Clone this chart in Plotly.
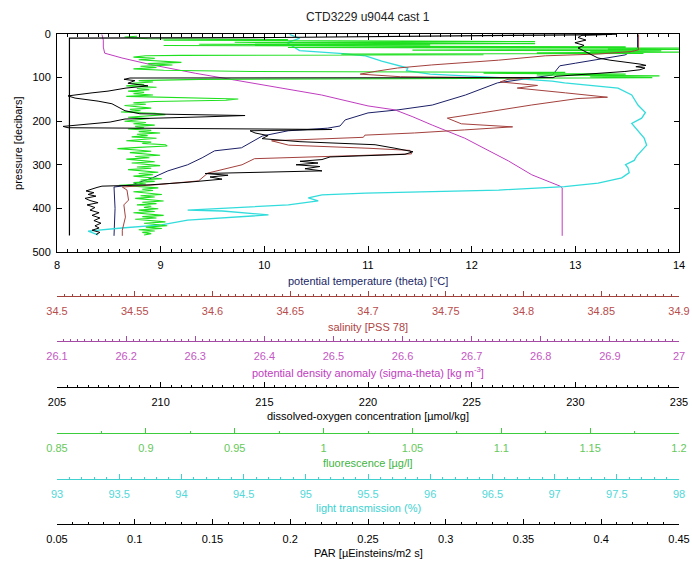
import plotly.graph_objects as go

# ---------------- CTD profiles (pressure in decibars) ----------------
temp_p = [2, 32, 48, 55, 60, 67, 73, 94, 101, 112,
          140, 163, 174, 181, 197, 211, 216, 222, 234, 243,
          261, 268, 284, 300, 314, 330, 346, 351, 400, 463]
temp_v = [13.60, 13.60, 13.48, 13.29, 13.17, 13.00, 12.85, 12.78, 12.58, 12.25,
          11.94, 11.62, 11.29, 11.00, 10.78, 10.73, 10.61, 10.23, 9.98, 9.91,
          9.78, 9.52, 9.40, 9.26, 9.07, 8.92, 8.72, 8.55, 8.56, 8.55]

sal_p = [1, 36, 40, 46, 50, 60, 71, 78, 85, 92,
         98, 101, 104, 110, 118, 124, 135, 145, 148, 163,
         181, 193, 206, 213, 220, 227, 232, 237, 245, 255,
         262, 267, 275, 280, 286, 300, 312, 319, 337, 346,
         351, 358, 381, 392, 420, 450, 463]
sal_v = [34.874, 34.874, 34.870, 34.848, 34.814, 34.784, 34.741, 34.719, 34.706, 34.695,
         34.721, 34.804, 34.790, 34.785, 34.809, 34.796, 34.827, 34.854, 34.835, 34.805,
         34.773, 34.751, 34.760, 34.793, 34.762, 34.730, 34.698, 34.697, 34.638, 34.649,
         34.700, 34.727, 34.728, 34.682, 34.627, 34.619, 34.606, 34.597, 34.591, 34.563,
         34.542, 34.545, 34.546, 34.543, 34.544, 34.542, 34.542]

dens_p = [1, 14, 30, 44, 55, 70, 90, 105, 122, 140, 165,
          174, 190, 209, 239, 265, 291, 323, 340, 349, 353, 463]
dens_v = [26.165, 26.167, 26.167, 26.169, 26.194, 26.235, 26.300, 26.355, 26.420, 26.483, 26.550,
          26.589, 26.615, 26.643, 26.690, 26.722, 26.753, 26.787, 26.812, 26.828, 26.831, 26.831]

oxy_p = [1, 3, 8, 14, 20, 26, 32, 40, 48, 55,
         60, 65, 69, 72, 75, 78, 82, 86, 92, 97,
         100, 101, 104, 107, 113, 119, 124, 131, 135, 140,
         142, 147, 154, 160, 168, 176, 183, 187, 190, 195,
         202, 208, 212, 215, 219, 222, 227, 233, 240, 247,
         254, 262, 270, 276, 282, 288, 292, 296, 300, 304,
         309, 314, 318, 320, 324, 328, 333, 340, 346, 349,
         352, 356, 360, 364, 368, 372, 377, 382, 387, 392,
         398, 404, 410, 416, 422, 428, 434, 440, 445, 450,
         455, 460]
oxy_v = [231.77, 230.32, 230.13, 230.51, 229.98, 230.42, 230.13, 230.47, 230.80, 231.09,
         231.67, 232.54, 233.12, 233.41, 232.92, 233.36, 233.12, 232.39, 230.71, 229.07,
         228.92, 208.52, 208.23, 208.76, 208.42, 209.39, 208.33, 207.46, 206.69, 205.72,
         205.53, 205.87, 206.98, 207.65, 207.94, 208.28, 209.00, 214.07, 212.14, 208.28,
         207.56, 206.11, 205.29, 205.53, 218.26, 214.31, 214.55, 215.18, 214.89, 216.72,
         220.34, 221.30, 222.17, 221.78, 218.17, 217.78, 216.72, 217.59, 216.53, 217.68,
         216.96, 217.78, 214.79, 212.14, 213.25, 212.38, 212.96, 211.32, 209.49, 207.17,
         206.93, 206.69, 206.40, 206.78, 206.50, 206.88, 206.35, 206.59, 206.98, 206.45,
         206.83, 206.59, 207.03, 206.69, 207.07, 206.78, 207.12, 206.83, 207.03, 206.69,
         207.07, 206.88]

fluo_p = [5, 7, 9, 11, 13, 14.5, 16, 17.5, 19, 20.5,
          22, 23.5, 25, 26.5, 28, 29.5, 31, 32.5, 34, 35.5,
          37, 38.5, 40, 41.5, 43, 44.5, 46, 47.5, 49, 50,
          53, 56, 59, 62, 65, 68, 71, 74, 77, 80,
          83, 86, 88, 90, 92, 94, 96, 98, 100, 102,
          104, 107, 110, 113, 116, 119, 122,
          125, 128, 131, 134, 137, 140, 143, 146, 149, 152,
          155, 158, 161, 164, 167, 170, 173, 176, 179, 182,
          185, 188, 191, 194, 197, 200, 203, 206, 209, 212,
          215, 218, 221, 224, 227, 230, 233, 236, 239, 242,
          245, 248, 251, 254, 257, 260, 263, 266, 269, 272,
          275, 278, 281, 284, 287, 290, 293, 296, 299, 302,
          305, 308, 311, 314, 317, 320, 323, 326, 329, 332,
          335, 338, 341, 344, 347, 350, 353, 356, 359, 362,
          365, 368, 371, 374, 377, 380, 383, 386, 389, 392,
          395, 398, 401, 404, 407, 410, 413, 416, 419, 422,
          425, 428, 431, 434, 437, 440, 443, 446, 449, 452,
          455, 458, 461]
fluo_v = [0.895, 0.888, 0.893, 0.901, 0.980, 0.910, 1.050, 1.119, 0.950, 1.100,
          1.119, 0.930, 1.060, 0.910, 1.140, 1.170, 0.980, 1.200, 1.160, 1.200,
          1.050, 1.190, 1.150, 1.200, 1.120, 1.180, 1.010, 1.090, 0.920, 0.900,
          0.893, 0.905, 0.896, 0.912, 0.920, 0.901, 0.915, 0.897, 0.906, 0.893,
          0.910, 0.960, 1.136, 1.090, 1.170, 1.120, 1.189, 1.150, 1.185, 1.080,
          0.930, 0.896, 0.904, 0.892, 0.899, 0.889, 0.906,
          0.895, 0.902, 0.890, 0.899, 0.893, 0.904, 0.889, 0.930, 0.952, 0.945,
          0.905, 0.893, 0.900, 0.888, 0.898, 0.903, 0.891, 0.897, 0.886, 0.905,
          0.911, 0.898, 0.890, 0.902, 0.895, 0.888, 0.900, 0.893, 0.905, 0.894,
          0.899, 0.890, 0.903, 0.896, 0.908, 0.895, 0.901, 0.892, 0.906, 0.897,
          0.889, 0.903, 0.898, 0.911, 0.912, 0.896, 0.884, 0.895, 0.903, 0.891,
          0.899, 0.908, 0.894, 0.902, 0.889, 0.897, 0.905, 0.892, 0.900, 0.908,
          0.895, 0.903, 0.890, 0.899, 0.907, 0.896, 0.904, 0.893, 0.901, 0.909,
          0.897, 0.905, 0.893, 0.900, 0.885, 0.895, 0.907, 0.898, 0.904, 0.893,
          0.901, 0.909, 0.897, 0.905, 0.894, 0.903, 0.910, 0.898, 0.906, 0.895,
          0.903, 0.899, 0.907, 0.896, 0.905, 0.893, 0.902, 0.910, 0.898, 0.906,
          0.894, 0.903, 0.911, 0.899, 0.907, 0.912, 0.900, 0.909, 0.896, 0.905,
          0.898, 0.903, 0.899]

trans_p = [1, 10, 20, 30, 38, 45, 50, 62, 71, 78,
           84, 92, 100, 108, 112, 119, 124, 140, 163, 180,
           193, 205, 216, 228, 239, 255, 268, 280, 290, 300,
           307, 318, 330, 342, 350, 358, 365, 369, 376, 383,
           392, 404, 406, 415, 427, 438, 445, 452, 461]
trans_v = [94.87, 94.95, 94.85, 94.90, 94.95, 95.30, 95.48, 95.61, 95.72, 95.82,
           95.81, 96.00, 96.56, 96.98, 97.08, 97.35, 97.51, 97.62, 97.67, 97.73,
           97.70, 97.62, 97.65, 97.69, 97.72, 97.74, 97.70, 97.66, 97.64, 97.57,
           97.59, 97.60, 97.54, 97.35, 97.08, 96.55, 95.48, 95.13, 95.02, 95.10,
           94.86, 94.05, 94.33, 94.70, 94.05, 93.84, 93.52, 93.25, 93.33]

par_p = [0.5, 2, 8, 9.5, 462]
par_v = [0.410, 0.384, 0.191, 0.058, 0.058]

FONT = "Liberation Sans, Arial, sans-serif"

C_TEMP = "#1b1f66"
C_SAL = "#a3413d"
C_DENS = "#c03cc0"
C_OXY = "#000000"
C_FLUO = "#1fe01f"
C_TRANS = "#33dcdc"
C_PAR = "#000000"

fig = go.Figure()


def profile(x, y, axis, color, width=1.0):
    fig.add_trace(go.Scatter(x=x, y=y, xaxis=axis, yaxis="y", mode="lines",
                             line=dict(color=color, width=width),
                             showlegend=False, hoverinfo="skip"))


# subplot order sets stacking: main (temperature) first, then the overlays
profile(temp_v, temp_p, "x", C_TEMP)
profile(dens_v, dens_p, "x2", C_DENS)
profile(trans_v, trans_p, "x3", C_TRANS, 1.3)
profile(fluo_v, fluo_p, "x4", C_FLUO, 1.1)
profile(sal_v, sal_p, "x5", C_SAL)
profile(oxy_v, oxy_p, "x6", C_OXY, 1.0)
profile(par_v, par_p, "x7", C_PAR, 1.2)

MAIN_BOTTOM = 0.5792


def free_axis(rng, step, pos, line_col, label_col, minor_dtick):
    return dict(
        overlaying="x", anchor="free", position=pos, side="bottom",
        domain=[0, 1], range=rng, tickmode="linear", tick0=rng[0], dtick=step,
        showline=True, linecolor=line_col, linewidth=1,
        ticks="inside", ticklen=5, tickcolor=line_col, tickwidth=1,
        minor=dict(ticks="inside", ticklen=2, tickcolor=line_col,
                   dtick=minor_dtick, tick0=rng[0], showgrid=False),
        tickfont=dict(family=FONT, size=11, color=label_col),
        showgrid=False, zeroline=False, ticklabelstandoff=5, automargin=False,
    )


fig.update_layout(
    width=692, height=562,
    margin=dict(l=57, r=13, t=34, b=10, autoexpand=False),
    paper_bgcolor="white", plot_bgcolor="white",
    font=dict(family=FONT, size=11, color="black"),
    showlegend=False,
    xaxis=dict(
        domain=[0, 1], range=[8, 14], anchor="y", side="bottom",
        tickmode="linear", tick0=8, dtick=1,
        showline=True, mirror="allticks", linecolor="black", linewidth=1,
        ticks="inside", ticklen=6, tickcolor="black",
        minor=dict(ticks="inside", ticklen=3, dtick=0.1, tick0=8,
                   tickcolor="black", showgrid=False),
        tickfont=dict(family=FONT, size=11, color="black"),
        showgrid=False, zeroline=False, ticklabelstandoff=3, automargin=False,
    ),
    yaxis=dict(
        domain=[MAIN_BOTTOM, 1], range=[500, 0],
        tickmode="linear", tick0=0, dtick=100,
        showline=True, mirror="ticks", linecolor="black", linewidth=1,
        ticks="inside", ticklen=5, tickcolor="black",
        tickfont=dict(family=FONT, size=11, color="black"),
        showgrid=False, zeroline=False, ticklabelstandoff=3, automargin=False,
    ),
    xaxis2=free_axis([26.1, 27.0], 0.1, 0.4073, "#a54aa5", "#c458c4", 0.01),
    xaxis3=free_axis([93, 98], 0.5, 0.1409, "#40d0d0", "#52d8d8", 0.1),
    xaxis4=free_axis([0.85, 1.2], 0.05, 0.2297, "#3ccc3c", "#66c85a", 0.025),
    xaxis5=free_axis([34.5, 34.9], 0.05, 0.4942, "#a3413d", "#b84c4c", 0.005),
    xaxis6=free_axis([205, 235], 5, 0.3185, "black", "black", 0.5),
    xaxis7=free_axis([0.05, 0.45], 0.05, 0.0541, "black", "black", 0.01),
)

# axis titles and chart title
titles = [
    ("potential temperature (theta) [°C]", 0.5232, C_TEMP),
    ("salinity [PSS 78]", 0.4344, "#b04444"),
    ("potential density anomaly (sigma-theta) [kg m<sup>-3</sup>]", 0.3475, "#c03cc0"),
    ("dissolved-oxygen concentration [µmol/kg]", 0.2625, "black"),
    ("fluorescence [µg/l]", 0.1718, "#3fb53f"),
    ("light transmission (%)", 0.0849, "#3cd2d2"),
    ("PAR [µEinsteins/m2 s]", -0.0019, "black"),
]
for text, ypos, col in titles:
    fig.add_annotation(text=text, xref="paper", yref="paper", x=0.5, y=ypos,
                       xanchor="center", yanchor="middle", showarrow=False,
                       font=dict(family=FONT, size=11, color=col))

fig.add_annotation(text="CTD3229 u9044 cast 1", xref="paper", yref="paper",
                   x=0.5, y=1.0328, xanchor="center", yanchor="middle",
                   showarrow=False, font=dict(family=FONT, size=12, color="#222222"))
fig.add_annotation(text="pressure [decibars]", xref="paper", yref="paper",
                   x=-0.0627, y=(MAIN_BOTTOM + 1) / 2, textangle=-90,
                   xanchor="center", yanchor="middle", showarrow=False,
                   font=dict(family=FONT, size=11, color="black"))

fig.write_html("out.html")
